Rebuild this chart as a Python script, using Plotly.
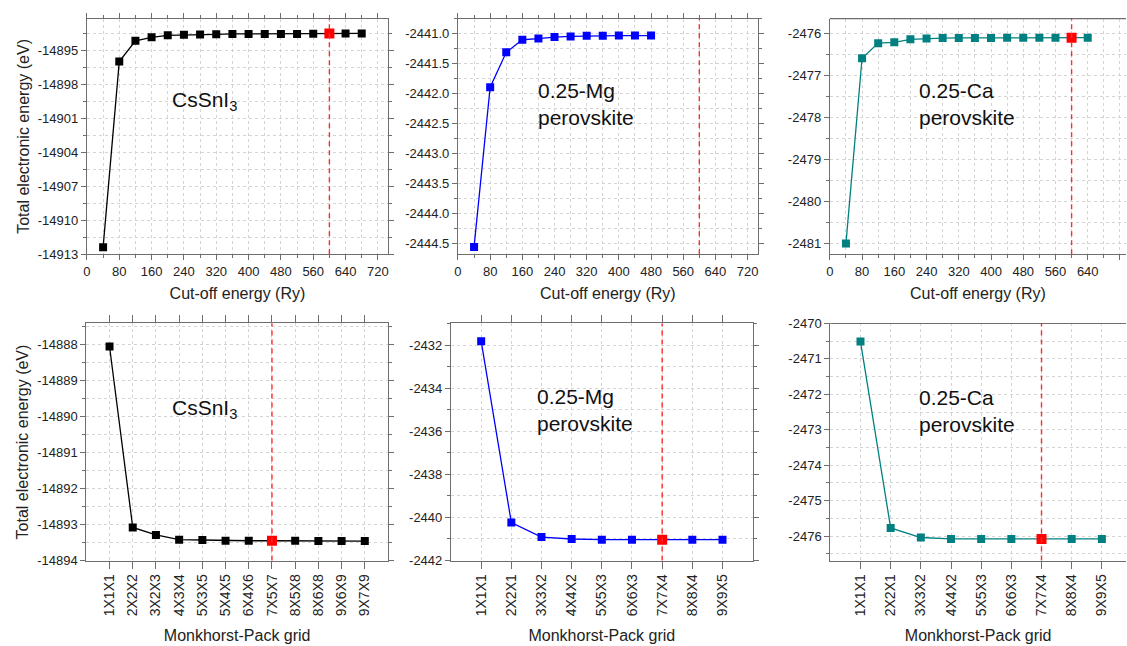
import plotly.graph_objects as go
from plotly.subplots import make_subplots

# ---------------- data ----------------
cutoff_cssni3 = [40, 80, 120, 160, 200, 240, 280, 320, 360, 400, 440, 480, 520, 560, 600, 640, 680]
energy_cut_cssni3 = [-14912.4, -14895.95, -14894.1, -14893.8, -14893.62, -14893.57, -14893.55,
                     -14893.53, -14893.5, -14893.5, -14893.5, -14893.5, -14893.5, -14893.48,
                     -14893.47, -14893.46, -14893.45]

cutoff_mg = [40, 80, 120, 160, 200, 240, 280, 320, 360, 400, 440, 480]
energy_cut_mg = [-2444.55, -2441.89, -2441.31, -2441.10, -2441.08, -2441.055, -2441.045,
                 -2441.035, -2441.035, -2441.03, -2441.03, -2441.03]

cutoff_ca = [40, 80, 120, 160, 200, 240, 280, 320, 360, 400, 440, 480, 520, 560, 600, 640]
energy_cut_ca = [-2481.0, -2476.60, -2476.24, -2476.22, -2476.15, -2476.13, -2476.12,
                 -2476.115, -2476.115, -2476.115, -2476.11, -2476.11, -2476.11, -2476.11,
                 -2476.11, -2476.11]

kgrid_cssni3 = ["1X1X1", "2X2X2", "3X2X3", "4X3X4", "5X3X5", "5X4X5", "6X4X6", "7X5X7",
                "8X5X8", "8X6X8", "9X6X9", "9X7X9"]
energy_k_cssni3 = [-14888.06, -14893.08, -14893.29, -14893.42, -14893.43, -14893.45, -14893.45,
                   -14893.45, -14893.45, -14893.46, -14893.46, -14893.46]

kgrid_mg = ["1X1X1", "2X2X1", "3X3X2", "4X4X2", "5X5X3", "6X6X3", "7X7X4", "8X8X4", "9X9X5"]
energy_k_mg = [-2431.82, -2440.24, -2440.91, -2441.0, -2441.03, -2441.03, -2441.03, -2441.03, -2441.03]

kgrid_ca = ["1X1X1", "2X2X1", "3X3X2", "4X4X2", "5X5X3", "6X6X3", "7X7X4", "8X8X4", "9X9X5"]
energy_k_ca = [-2470.51, -2475.77, -2476.04, -2476.08, -2476.08, -2476.08, -2476.08, -2476.08, -2476.08]

# y tick labels (hyphen minus as in the reference)
yticks_cut_cssni3 = [-14913, -14910, -14907, -14904, -14901, -14898, -14895]
yticks_cut_mg = [-2444.5, -2444.0, -2443.5, -2443.0, -2442.5, -2442.0, -2441.5, -2441.0]
yticks_cut_ca = [-2481, -2480, -2479, -2478, -2477, -2476]
yticks_k_cssni3 = [-14894, -14893, -14892, -14891, -14890, -14889, -14888]
yticks_k_mg = [-2442, -2440, -2438, -2436, -2434, -2432]
yticks_k_ca = [-2476, -2475, -2474, -2473, -2472, -2471, -2470]
xticks_cut = [0, 80, 160, 240, 320, 400, 480, 560, 640, 720]

cutoff_selected = 600
kgrid_selected = {"cssni3": "7X5X7", "mg": "7X7X4", "ca": "7X7X4"}

# ---------------- figure ----------------
W, H = 1127, 646
fig = make_subplots(rows=2, cols=3)

AX = "#6e6e6e"
GRID = "#d4d4d4"
GDASH = "3px,3px"
FAM = "Liberation Sans, Arial, sans-serif"
TICKFONT = dict(family=FAM, size=13, color="#222")
ROTFONT = dict(family=FAM, size=14, color="#222")
TITLEFONT = dict(family=FAM, size=16, color="#222")

def px_x(a, b):
    return [a / W, min(b / W, 1.0)]

def px_y(top, bottom):
    return [1 - bottom / H, 1 - top / H]

domains = {
    (1, 1): (px_x(83.3, 385.7), px_y(12, 253)),
    (1, 2): (px_x(456, 757), px_y(12, 253)),
    (1, 3): (px_x(829.5, 1127), px_y(12, 253)),
    (2, 1): (px_x(82.7, 385.7), px_y(324, 566.7)),
    (2, 2): (px_x(449, 752), px_y(324, 566.7)),
    (2, 3): (px_x(830, 1127), px_y(324, 566.7)),
}

def add_series(row, col, x, y, color, red_idx):
    mcolors = [color] * len(x)
    msizes = [8] * len(x)
    if red_idx is not None:
        mcolors[red_idx] = "#ff0000"
        msizes[red_idx] = 10
    fig.add_trace(go.Scatter(x=x, y=y, mode="lines+markers",
                             line=dict(color=color, width=1.3),
                             marker=dict(symbol="square", size=msizes, color=mcolors, opacity=1,
                                         line=dict(width=0)),
                             opacity=1, showlegend=False), row=row, col=col)

def idx_of(lst, v):
    return lst.index(v) if v in lst else None

add_series(1, 1, cutoff_cssni3, energy_cut_cssni3, "#000000", idx_of(cutoff_cssni3, cutoff_selected))
add_series(1, 2, cutoff_mg, energy_cut_mg, "#0000ff", idx_of(cutoff_mg, cutoff_selected))
add_series(1, 3, cutoff_ca, energy_cut_ca, "#008080", idx_of(cutoff_ca, cutoff_selected))

kx_cs = list(range(1, len(kgrid_cssni3) + 1))
kx_mg = list(range(1, len(kgrid_mg) + 1))
kx_ca = list(range(1, len(kgrid_ca) + 1))
add_series(2, 1, kx_cs, energy_k_cssni3, "#000000", kgrid_cssni3.index(kgrid_selected["cssni3"]))
add_series(2, 2, kx_mg, energy_k_mg, "#0000ff", kgrid_mg.index(kgrid_selected["mg"]))
add_series(2, 3, kx_ca, energy_k_ca, "#008080", kgrid_ca.index(kgrid_selected["ca"]))

common = dict(showline=True, linecolor=AX, linewidth=1.2, ticks="outside", ticklen=5,
              tickcolor=AX, tickwidth=1, showgrid=True, gridcolor=GRID, griddash=GDASH,
              gridwidth=1, zeroline=False, tickfont=TICKFONT)

def fmt(v, dec):
    return f"{v:.{dec}f}"

def minor_vals(vals, lo, hi):
    step = (vals[1] - vals[0]) / 2
    out = []
    v = vals[0] - step
    while v <= hi + 1e-9:
        if v >= lo - 1e-9:
            out.append(v)
        v += 2 * step
    return out

def yspec(vals, rng, dec):
    return dict(range=rng, tickmode="array", tickvals=vals, ticktext=[fmt(v, dec) for v in vals],
                minor=dict(tickmode="array", tickvals=minor_vals(vals, rng[0], rng[1]),
                           ticks="outside", ticklen=3, tickcolor=AX, showgrid=True,
                           gridcolor=GRID, griddash=GDASH, gridwidth=1))

yspecs = {
    (1, 1): yspec(yticks_cut_cssni3, [-14913.0, -14892.15], 0),
    (1, 2): yspec(yticks_cut_mg, [-2444.67, -2440.75], 1),
    (1, 3): yspec(yticks_cut_ca, [-2481.25, -2475.66], 0),
    (2, 1): yspec(yticks_k_cssni3, [-14894.0, -14887.42], 0),
    (2, 2): yspec(yticks_k_mg, [-2442.0, -2431.0], 0),
    (2, 3): yspec(yticks_k_ca, [-2476.69, -2470.0], 0),
}

def top_x(rng):
    return dict(range=rng, tickmode="array", tickvals=xticks_cut, ticktext=[str(v) for v in xticks_cut],
                minor=dict(tickmode="array", tickvals=minor_vals(xticks_cut, rng[0], rng[1]),
                           ticks="outside", ticklen=3, tickcolor=AX, showgrid=True,
                           gridcolor=GRID, griddash=GDASH, gridwidth=1))

def k_x(labels, xs, upper):
    return dict(range=[0, upper], tickmode="array", tickvals=xs, ticktext=labels, tickangle=-90,
                tickfont=ROTFONT, ticklen=7)

xspecs = {
    (1, 1): top_x([0, 745]),
    (1, 2): top_x([0, 745]),
    (1, 3): top_x([0, 735]),
    (2, 1): k_x(kgrid_cssni3, kx_cs, len(kgrid_cssni3) + 1),
    (2, 2): k_x(kgrid_mg, kx_mg, len(kgrid_mg) + 1),
    (2, 3): k_x(kgrid_ca, kx_ca, 9.8),
}

for (r, c), (xd, yd) in domains.items():
    xs = dict(common)
    xs.update(xspecs[(r, c)])
    fig.update_xaxes(domain=xd, mirror=("ticks" if c < 3 else False), **xs, row=r, col=c)
    fig.update_yaxes(domain=yd, mirror=("ticks" if c < 3 else False), **common, **yspecs[(r, c)], row=r, col=c)
    if r == 1:
        fig.update_xaxes(title=dict(text="Cut-off energy (Ry)", font=TITLEFONT, standoff=9), row=r, col=c)
    else:
        fig.update_xaxes(title=dict(text="Monkhorst-Pack grid", font=TITLEFONT, standoff=14), row=r, col=c)
    if c == 1:
        fig.update_yaxes(title=dict(text="Total electronic energy (eV)", font=TITLEFONT, standoff=4), row=r, col=c)

# top border for right column (right edge is cut off in the reference)
for ax, ya in [("x3", "y3"), ("x6", "y6")]:
    fig.add_shape(type="line", xref=ax + " domain", yref=ya + " domain",
                  x0=0, x1=1, y0=1, y1=1, line=dict(color=AX, width=1.2))

# red dashed selection lines
sel_lines = [("x", "y", cutoff_selected), ("x2", "y2", cutoff_selected), ("x3", "y3", cutoff_selected),
             ("x4", "y4", kx_cs[kgrid_cssni3.index(kgrid_selected["cssni3"])]),
             ("x5", "y5", kx_mg[kgrid_mg.index(kgrid_selected["mg"])]),
             ("x6", "y6", kx_ca[kgrid_ca.index(kgrid_selected["ca"])])]
for xa, ya, xv in sel_lines:
    fig.add_shape(type="line", xref=xa, yref=ya + " domain", x0=xv, x1=xv, y0=0, y1=1,
                  line=dict(color="#ff2a2a", width=1.4, dash="5px,4px"), layer="above")

# panel labels
LBL = dict(family=FAM, size=21, color="#111")
labels = [
    ("x", "y", 0.277, 0.65, "CsSnI<sub>3</sub>"),
    ("x2", "y2", 0.259, 0.636, "0.25-Mg<br>perovskite"),
    ("x3", "y3", 0.293, 0.636, "0.25-Ca<br>perovskite"),
    ("x4", "y4", 0.277, 0.64, "CsSnI<sub>3</sub>"),
    ("x5", "y5", 0.28, 0.637, "0.25-Mg<br>perovskite"),
    ("x6", "y6", 0.292, 0.632, "0.25-Ca<br>perovskite"),
]
for xa, ya, fx, fy, t in labels:
    fig.add_annotation(xref=xa + " domain", yref=ya + " domain", x=fx, y=fy, text=t,
                       showarrow=False, xanchor="left", yanchor="middle", align="left", font=LBL)

fig.update_layout(width=W, height=H, margin=dict(l=0, r=0, t=0, b=0),
                  paper_bgcolor="white", plot_bgcolor="white", showlegend=False)

fig.write_html("out.html")
